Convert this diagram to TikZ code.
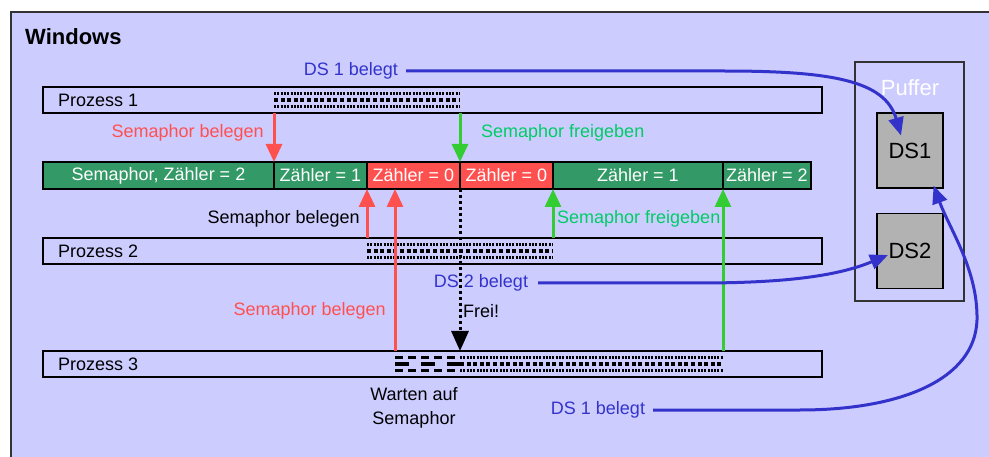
\documentclass[tikz,border=0pt]{standalone}
\usepackage{fontspec}
\setmainfont{Liberation Sans}
\usetikzlibrary{arrows.meta,calc}

\definecolor{lavender}{RGB}{204,204,255}
\definecolor{semgreen}{RGB}{51,153,102}
\definecolor{semred}{RGB}{255,80,80}
\definecolor{relgreen}{RGB}{51,204,51}
\definecolor{reltext}{RGB}{0,204,102}
\definecolor{dsblue}{RGB}{51,51,204}
\definecolor{dsgray}{RGB}{178,178,178}
\definecolor{framegray}{RGB}{51,51,51}

\begin{document}
\begin{tikzpicture}[x=1pt,y=-1pt,
    every node/.style={font=\fontsize{18}{24}\selectfont, inner sep=0},
    prozess/.style={draw=black, line width=1.5, fill=lavender, minimum width=779, minimum height=26, anchor=west, outer sep=0},
    segment/.style={draw=black, line width=1.2, minimum height=27, anchor=west, text=white, outer sep=0},
    dsbox/.style={draw=black, line width=1.2, fill=dsgray, minimum width=66, minimum height=75, font=\fontsize{22}{26}\selectfont},
    belegen/.style={semred, line width=3, -{Triangle[length=18,width=16]}},
    freigeben/.style={relgreen, line width=3, -{Triangle[length=18,width=16]}},
    ds/.style={dsblue, line width=3, -{Triangle[length=18,width=15]}},
    dotrow/.style={line width=2.5, dash pattern=on 2 off 1.3},
    squarerow/.style={line width=4.5, dash pattern=on 4 off 2.6},
    waitrow/.style={line width=2.5, dash pattern=on 8 off 5},
    waitbar/.style={line width=4.5, dash pattern=on 14 off 12}]
  \useasboundingbox (0,0) rectangle (989,457);
  \clip (0,0) rectangle (989,457);

  % outer frame
  \draw[framegray, line width=2, fill=lavender] (11,12) rectangle (1000,470);
  \node[anchor=west, font=\fontsize{22}{26}\selectfont\bfseries] (win) at (25,37) {Windows};

  % processes
  \node[prozess] (p1) at (43,100) {};
  \node[prozess] (p2) at (43,251) {};
  \node[prozess] (p3) at (43,364) {};
  \node[anchor=west] at (58,100) {Prozess 1};
  \node[anchor=west] at (58,251) {Prozess 2};
  \node[anchor=west] at (58,364) {Prozess 3};

  % activity of the processes
  \foreach \xa/\xb/\y in {274/460/100, 367/553/251, 460/723/364} {
    \draw[dotrow] (\xa,\y-6.5) -- (\xb,\y-6.5);
    \draw[squarerow] (\xa,\y) -- (\xb,\y);
    \draw[dotrow] (\xa,\y+6.5) -- (\xb,\y+6.5);
  }
  \draw[waitrow] (395,357.5) -- (460,357.5);
  \draw[waitbar] (395,364) -- (460,364);
  \draw[waitrow] (395,370.5) -- (460,370.5);

  % semaphore counter
  \node[segment, fill=semgreen, minimum width=231] (s1) at (43,175.5) {Semaphor, Zähler = 2};
  \node[segment, fill=semgreen, minimum width=93] (s2) at (s1.east) {Zähler = 1};
  \node[segment, fill=semred, minimum width=93] (s3) at (s2.east) {Zähler = 0};
  \node[segment, fill=semred, minimum width=93] (s4) at (s3.east) {Zähler = 0};
  \node[segment, fill=semgreen, minimum width=170] (s5) at (s4.east) {Zähler = 1};
  \node[segment, fill=semgreen, minimum width=88] (s6) at (s5.east) {Zähler = 2};

  % take and release
  \draw[belegen] (s1.north east |- p1.south) -- (s1.north east);
  \draw[freigeben] (s3.north east |- p1.south) -- (s3.north east);
  \draw[belegen] (s2.south east |- p2.north) -- (s2.south east);
  \coordinate (w3) at ($(s3.south west)+(28,0)$);
  \draw[belegen] (w3 |- p3.north) -- (w3);
  \draw[freigeben] (s4.south east |- p2.north) -- (s4.south east);
  \draw[freigeben] (s5.south east |- p3.north) -- (s5.south east);
  \draw[line width=3, dash pattern=on 3 off 3, -{Triangle[length=20,width=17]}] (s3.south east) -- (s3.south east |- p3.north);

  \node[anchor=east, text=semred] (lb1) at (264,133) {Semaphor belegen};
  \node[anchor=west, text=reltext] (lf1) at (481,133) {Semaphor freigeben};
  \node[anchor=east] (lb2) at (360,219) {Semaphor belegen};
  \node[anchor=west, text=reltext] (lf2) at (557,219) {Semaphor freigeben};
  \node[anchor=east, text=semred] (lb3) at (386,311) {Semaphor belegen};
  \node[anchor=west] (frei) at (463,311) {Frei!};
  \node[align=center] (wait) at (414,408) {Warten auf\\Semaphor};

  % buffer
  \draw[framegray, line width=1.5] (855,62) rectangle (964,301);
  \node[text=white, font=\fontsize{22}{26}\selectfont] (puffer) at (910,88) {Puffer};
  \node[dsbox] (ds1) at (910,150.5) {DS1};
  \node[dsbox] (ds2) at (910,251) {DS2};

  % data sets in use
  \node[text=dsblue] (d1) at (351,71) {DS 1 belegt};
  \node[text=dsblue] (d2) at (481,283) {DS 2 belegt};
  \node[text=dsblue] (d3) at (598,410) {DS 1 belegt};
  \draw[ds] ($(d1.east)+(8,0)$) -- (723,71) .. controls (830,71) and (885,80) .. ($(ds1.center)+(-9,-15)$);
  \draw[ds] ($(d2.east)+(10,0)$) -- (700,283) .. controls (790,283) and (840,275) .. ($(ds2.center)+(-22,4)$);
  \draw[ds] ($(d3.east)+(8,0)$) -- (800,410) .. controls (900,410) and (975,380) .. (977,320) .. controls (978,270) and (950,230) .. ($(ds1.south east)+(-10,-3)$);
\end{tikzpicture}
\end{document}
